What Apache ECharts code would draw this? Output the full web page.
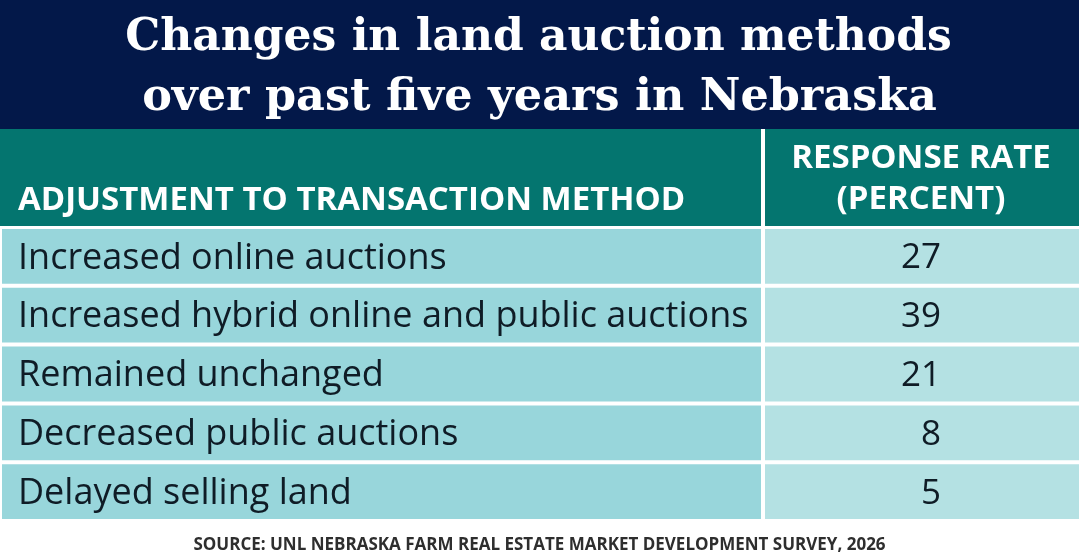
<!DOCTYPE html>
<html>
<head>
<meta charset="utf-8">
<script src="https://cdn.jsdelivr.net/npm/echarts@6/dist/echarts.min.js"></script>
<style>
html,body{margin:0;padding:0;background:#fff;}
#c{width:1079px;height:554px;}
</style>
</head>
<body>
<div id="c"></div>
<script>
const titleLines = ["Changes in land auction methods", "over past five years in Nebraska"];
const headerLeft = "ADJUSTMENT TO TRANSACTION METHOD";
const headerRight = ["RESPONSE RATE", "(PERCENT)"];
const categories = [
  "Increased online auctions",
  "Increased hybrid online and public auctions",
  "Remained unchanged",
  "Decreased public auctions",
  "Delayed selling land"
];
const values = [27, 39, 21, 8, 5];
const source = "SOURCE: UNL NEBRASKA FARM REAL ESTATE MARKET DEVELOPMENT SURVEY, 2026";

const W = 1079;
const splitX = 763;      // column divider (pixels)
const gap = 2;           // half white gap
const navy = '#031849';
const teal = '#04756f';
const leftCell = '#98d6db';
const rightCell = '#b4e1e3';
const ink = '#0f1c26';
const bodyFont = '"Open Sans", "Noto Sans", sans-serif';

const chart = echarts.init(document.getElementById('c'), null, {renderer: 'canvas'});

function renderItem(params, api) {
  const idx = api.value(0);
  const c = api.coord([0, idx]);
  const band = api.size([0, 1])[1];
  const cs = params.coordSys;
  const top = c[1] - band / 2 + gap;
  const h = band - gap * 2;
  const left = cs.x;
  const right = cs.x + cs.width;
  return {
    type: 'group',
    children: [
      {type: 'rect', shape: {x: left, y: top, width: splitX - gap - left, height: h}, style: {fill: leftCell}},
      {type: 'rect', shape: {x: splitX + gap, y: top, width: right - splitX - gap, height: h}, style: {fill: rightCell}},
      {type: 'text', style: {text: categories[idx], x: 18, y: c[1] + 2, align: 'left', verticalAlign: 'middle',
        font: '36px ' + bodyFont, fill: ink}},
      {type: 'text', style: {text: String(api.value(1)), x: 941, y: c[1] + 2, align: 'right', verticalAlign: 'middle',
        font: '35px ' + bodyFont, fill: ink}}
    ]
  };
}

chart.setOption({
  animation: false,
  backgroundColor: '#ffffff',
  grid: {left: 2, right: 0, top: 227, bottom: 33, containLabel: false},
  xAxis: {type: 'value', min: 0, max: 100, show: false},
  yAxis: {type: 'category', data: categories, inverse: true, show: false},
  graphic: [
    {type: 'rect', shape: {x: 0, y: 0, width: W, height: 129}, style: {fill: navy}, z: 10},
    {type: 'text', style: {text: titleLines[0], x: W / 2 - 1, y: 39, align: 'center', verticalAlign: 'middle',
      font: 'bold 44px "DejaVu Serif", serif', fill: '#ffffff'}, z: 11},
    {type: 'text', style: {text: titleLines[1], x: W / 2, y: 98, align: 'center', verticalAlign: 'middle',
      font: 'bold 44.5px "DejaVu Serif", serif', fill: '#ffffff'}, z: 11},
    {type: 'rect', shape: {x: 0, y: 129, width: W, height: 97}, style: {fill: teal}, z: 10},
    {type: 'rect', shape: {x: splitX - gap, y: 129, width: gap * 2, height: 97}, style: {fill: '#ffffff'}, z: 11},
    {type: 'text', style: {text: headerLeft, x: 18, y: 201, align: 'left', verticalAlign: 'middle',
      font: 'bold 33px ' + bodyFont, fill: '#ffffff'}, z: 11},
    {type: 'text', style: {text: headerRight[0], x: 921, y: 159, align: 'center', verticalAlign: 'middle',
      font: 'bold 33px ' + bodyFont, fill: '#ffffff'}, z: 11},
    {type: 'text', style: {text: headerRight[1], x: 921, y: 200, align: 'center', verticalAlign: 'middle',
      font: 'bold 33px ' + bodyFont, fill: '#ffffff'}, z: 11},
    {type: 'text', style: {text: source, x: W / 2, y: 545, align: 'center', verticalAlign: 'middle',
      font: 'bold 17px ' + bodyFont, fill: '#2e2e2e'}, z: 11}
  ],
  series: [{
    type: 'custom',
    renderItem: renderItem,
    data: categories.map((c, i) => [i, values[i]]),
    encode: {x: 1, y: 0}
  }]
});
</script>
</body>
</html>
